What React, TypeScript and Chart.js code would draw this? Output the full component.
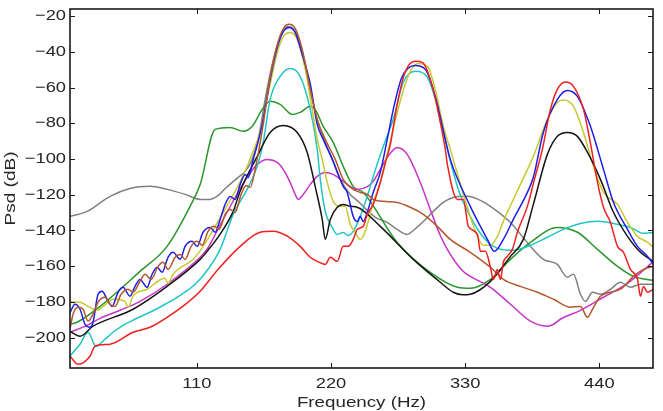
import { useEffect, useRef } from "react";
import { Chart, registerables } from "chart.js";

Chart.register(...registerables);

// Power spectral density traces: frequency (Hz) and level (dB)
const redHz = [6, 12.6, 22.4, 26.5, 38.8, 57.7, 71.6, 85.6, 98.7, 112.7, 127.5, 145.5, 161.9, 172.6, 184.1, 194.7, 203, 208.7, 215.3, 219.4, 225.1, 230, 234.1, 238.2, 241.5, 246.4, 249.7, 254.6, 260.4, 265, 268.6, 273.5, 279.3, 284.2, 289.1, 294.9, 303.1, 309.6, 313.7, 315.4, 323.6, 328.5, 332.6, 340, 342.5, 346.6, 350.7, 353.1, 356.4, 358.9, 361.3, 364.6, 368.7, 372.8, 381, 386.8, 393.3, 399.9, 405.6, 412.2, 418.8, 427, 432.7, 438.5, 443.4, 449.1, 454.9, 459.8, 465.5, 471.3, 473.7, 476.2, 479.5, 484.4];
const redDb = [-210.4, -214.9, -210.4, -204.8, -203.7, -197, -194.2, -188.6, -182.4, -174, -161.7, -148.9, -141, -140.4, -143.2, -148.9, -155, -157.3, -159, -155, -157.3, -148.9, -148.9, -145, -139.4, -137.7, -131, -125.4, -113.1, -101, -92, -72.2, -54.3, -47, -45.2, -45.9, -59.3, -79.5, -94.6, -103, -122.6, -122.6, -137.7, -142.1, -151.7, -151.7, -160.6, -167.4, -161.8, -167.4, -157.8, -154.5, -150.6, -141, -126.5, -111.4, -94.6, -72.2, -61, -56.9, -59.3, -72.2, -91.1, -113.1, -127, -135.5, -148.9, -152.2, -161.8, -167.4, -176.8, -171.3, -174.6, -172.9];

const blueHz = [6, 10.1, 14.2, 18.3, 22.4, 24.9, 29, 32.3, 36.4, 40.5, 45.4, 49.5, 55.2, 59.3, 63.4, 69.2, 73.3, 77.4, 81.5, 86.4, 90.5, 96.3, 100.4, 106.1, 110.2, 115.1, 120.9, 125, 129.1, 133.2, 137.3, 141.4, 145.5, 149.6, 152.1, 156.2, 160.3, 164.4, 170.1, 176.7, 181.6, 185.7, 190.6, 196.4, 203, 208.7, 213.6, 221.8, 230, 233.3, 238.2, 241.5, 244, 246.4, 249.7, 254.6, 260.4, 266.1, 271.8, 277.6, 283.4, 289.1, 297.3, 305.5, 313.7, 317.8, 334.2, 342.5, 348.2, 353.9, 361.3, 369.5, 381, 385.9, 394.1, 405.6, 413.8, 422, 432.7, 443.4, 451.6, 463.1, 471.3, 479.5, 484.4];
const blueDb = [-186, -181.3, -184.1, -192.5, -194.2, -191.4, -175.7, -174, -178.5, -182.5, -174.6, -171.8, -176.8, -171.3, -167.4, -171.8, -164.5, -160.6, -163.4, -155, -152.2, -156.1, -148.9, -146.1, -148.9, -141, -138.3, -141, -133.8, -125.4, -121, -122.6, -114.2, -108.6, -110.3, -100.2, -90.1, -77.8, -55.4, -35.8, -28, -26.3, -29.1, -41.4, -58, -80.6, -89, -101.3, -115.3, -118.7, -132.1, -135, -132.1, -135, -129.9, -118.7, -107.5, -89, -70, -55, -49, -47.6, -49.8, -64.9, -89, -100.2, -126.5, -137.7, -145, -151.7, -145, -133.8, -118.7, -110.2, -85.1, -66.6, -61.6, -64.9, -81.7, -105.8, -124.3, -139.4, -148.9, -154.5, -158.9];

const brownHz = [6, 8.5, 12.6, 16.7, 20.8, 24.9, 29, 34.7, 38.8, 42.9, 47.9, 53.6, 57.7, 63.4, 67.5, 72.5, 78.2, 82.3, 86.4, 92.2, 96.3, 100.4, 105.3, 110.2, 114.3, 119.2, 124.2, 128.3, 133.2, 137.3, 141.4, 146.3, 150.4, 153.7, 158.6, 164.4, 170.1, 176.7, 181.6, 185.7, 190.6, 196.4, 203, 208.7, 215.3, 223.5, 230, 238.2, 244, 249.7, 254.6, 262.8, 274.3, 285, 295.7, 307.2, 317.8, 334.2, 350.7, 361.3, 375.3, 389.2, 402.4, 416.3, 424.5, 430.3, 434.4, 440.9, 449.1, 457.3, 468, 476.2, 484.4];
const brownDb = [-195.3, -186.9, -183, -184.1, -190.8, -186.9, -180.2, -177.4, -181.3, -182.5, -175.7, -172.9, -174.6, -168.5, -164.5, -167.4, -160.1, -157.8, -161.8, -155, -153.4, -156.2, -148.9, -146.1, -148.3, -140.5, -137.7, -139.4, -131, -128.2, -129.9, -119.8, -114.8, -115.9, -103, -80.6, -54.3, -34.2, -26.3, -24.6, -26.9, -38.6, -61, -77.8, -89, -100.2, -111.4, -117, -118.7, -119.8, -122.6, -123.7, -124.3, -127, -131, -137.7, -145, -152.2, -160.6, -167.4, -171.3, -174.6, -178.5, -183, -182.5, -188.6, -184.1, -176.8, -174.6, -172.9, -165.7, -161.8, -160.1];

const yellowHz = [6, 14.2, 20.8, 28.2, 33.1, 41.3, 51.1, 53.6, 57.7, 69.2, 83.9, 86.4, 90.5, 106.9, 115.1, 129.1, 139.8, 148, 156.2, 161.9, 170.1, 176.7, 181.6, 186.5, 192.3, 198.9, 204.6, 208.7, 212.8, 216.9, 221.8, 227.6, 231.7, 235.8, 239.9, 244, 246.4, 250.5, 254.6, 260.4, 267, 274.3, 280.9, 286.6, 291.6, 299, 305.5, 312.1, 317.8, 331.8, 338.4, 344.9, 350.7, 356.4, 361.3, 369.5, 375.3, 385.9, 397.4, 405.6, 410.6, 418.8, 427, 435.2, 443.4, 454.9, 463.1, 471.3, 479.5, 484.4];
const yellowDb = [-180, -180.2, -182.5, -184.7, -182.5, -178.5, -179.7, -183, -176.8, -172.9, -166.8, -169.6, -164.5, -156.1, -149, -133, -120, -109.2, -95.7, -84.5, -58.2, -38.6, -30.8, -29.1, -33, -49.8, -72.2, -89, -100.2, -113.1, -123.7, -126.5, -126.5, -136.6, -141, -145, -143.3, -135, -124.3, -113.1, -94.6, -74, -58, -49, -46.5, -48.1, -61, -81.7, -94.6, -127, -140.5, -148.3, -148.3, -143.3, -134.9, -122.6, -114.2, -98.5, -77.8, -68.3, -67, -70.5, -85.1, -104.1, -118.7, -125.4, -135.5, -143.3, -146.6, -149.5];

const cyanHz = [6, 14.2, 20.8, 27.3, 34.7, 41.3, 49.5, 59.3, 71.6, 84, 96.3, 108.6, 119.2, 129.1, 139.8, 151.2, 159.5, 164.4, 170.1, 178.3, 186.5, 194.7, 203, 208.7, 211.2, 215.3, 221, 225.1, 230, 234.1, 238.2, 244, 249.7, 254.6, 262, 271, 279.3, 289.1, 299, 307.2, 315.4, 324.4, 334.2, 344.9, 356.4, 369.5, 383.5, 397.4, 410.6, 424.5, 438.5, 451.6, 465.5, 476.2, 484.4];
const cyanDb = [-210.4, -203.7, -197, -204.8, -200.9, -197, -193.1, -189.7, -185.8, -181.3, -176.3, -170.1, -161.7, -150.6, -131, -117, -104.1, -90.7, -66.6, -53.7, -49.3, -53.7, -72.2, -94.6, -111.4, -129.4, -138.3, -142.2, -141.1, -142.8, -140.5, -132.1, -120.9, -109.7, -94.6, -77.8, -57, -50.9, -54.3, -70.5, -94.6, -117, -132.1, -143.8, -150, -151.1, -148.3, -143.8, -139.4, -136.1, -134.9, -136.1, -138.3, -141.6, -141.1];

const magentaHz = [6, 20, 30.6, 47, 63.4, 85.6, 112.7, 118.4, 129.1, 139.8, 151.2, 159.5, 167.7, 175.9, 180.8, 186.5, 190.6, 193.1, 197.2, 203, 208.7, 215.3, 221.8, 230, 241.5, 249.7, 254.6, 260.4, 266.1, 274.3, 282.5, 293.2, 301.4, 309.6, 317.8, 328.5, 334.2, 350.7, 367.1, 383.5, 397.4, 402.4, 408.1, 424.5, 443.4, 463.1, 476.2, 484.4];
const magentaDb = [-197, -193.1, -189.2, -184.7, -179.7, -170.1, -155, -150.5, -137, -123.5, -110.3, -103, -100.2, -101.9, -105.8, -113.1, -119.8, -122.6, -119.8, -114.2, -109.7, -107.5, -108.6, -112.5, -117, -115.4, -112.5, -105.8, -99.1, -93.5, -97.4, -113.1, -128.2, -142.8, -153.4, -163, -165.7, -171.8, -181.3, -190.8, -193.6, -192.5, -189.7, -184.7, -177.4, -169.6, -162.3, -157.3];

const greenHz = [6, 11.7, 30.6, 63.4, 85.6, 106.1, 112.7, 125, 137.3, 148, 155.4, 163.6, 170.1, 178.3, 188.2, 194.7, 203, 207, 213.6, 221.8, 230, 238.2, 246.4, 274.3, 301.4, 323.6, 334.2, 350.7, 367.1, 383.5, 405.6, 422, 438.5, 454.9, 468, 484.4];
const greenDb = [-192.5, -191.4, -182.5, -162.9, -148.9, -124.3, -114.3, -83.4, -82.3, -84.5, -81.7, -72.2, -67.7, -69.4, -75, -73.9, -70.5, -72.2, -81.7, -90.7, -104.1, -115.3, -118.7, -146.7, -163.5, -171.8, -172.4, -167.4, -156.2, -146.7, -138.3, -141, -150.6, -160.1, -165.7, -168];

const blackHz = [6, 14.2, 24.9, 57.7, 85.6, 112.7, 118.4, 129.1, 139.8, 145.5, 159.5, 170.1, 180.8, 192.3, 200.5, 207, 212.8, 215.3, 219.4, 225.1, 230, 235.8, 241.5, 260.4, 287.5, 309.6, 320.3, 328, 334.2, 350.7, 367.1, 377.7, 385.9, 397.4, 405.6, 413.8, 422, 430.3, 440.9, 451.6, 463.1, 473.7, 484.4];
const blackDb = [-196.5, -199.2, -193.6, -184.1, -171.3, -156.2, -151.7, -142, -129.3, -118, -98.5, -85.1, -81.2, -85.1, -96.3, -115.3, -133.8, -145, -133.8, -127, -125.4, -126.5, -127, -137.7, -156.2, -169, -174.6, -176, -175.7, -168.5, -154.5, -145, -125.4, -97.4, -87.3, -85.1, -87.3, -96.3, -111.4, -129.8, -143.3, -152.2, -157.3];

const grayHz = [6, 20, 38.8, 55.2, 71.6, 85.6, 100.4, 112.7, 120.9, 127.5, 133.2, 139, 143.9, 149.6, 155.4, 160.3, 166, 171.8, 178.3, 184.9, 191.5, 198, 204.6, 211.2, 219.4, 227.6, 235.8, 242.3, 248.9, 256.3, 266.1, 274.3, 282.5, 287.5, 295.7, 303.9, 312.1, 320.3, 331.8, 340.8, 350.7, 367.1, 383.5, 394.1, 405.6, 413.8, 418.8, 424.5, 428.6, 434.4, 440.9, 449.1, 457.3, 465.5, 473.7, 484.4];
const grayDb = [-132.1, -129.3, -120.9, -116.5, -115.3, -117, -119.8, -122.6, -122.6, -120.4, -116.5, -113.1, -110.3, -106.9, -100.2, -89, -66.6, -47, -31.9, -25.8, -29.7, -44.2, -66.6, -83.4, -97.4, -111.4, -119.8, -123.7, -128.2, -132.6, -135.5, -139.4, -142.2, -140, -135, -129.3, -124.3, -121.5, -120.9, -122.6, -126.5, -135.5, -148.9, -156.2, -159, -166.2, -164.5, -175.7, -179.7, -174.6, -175.7, -172.9, -169, -171.8, -170.1, -170.1];

// Axis limits and tick values
const xRange = [6, 484];
const yRange = [-217, -16];
const xTicks = [110, 220, 330, 440];
const yTicks = [-200, -180, -160, -140, -120, -100, -80, -60, -40, -20];
const xTitle = "Frequency (Hz)";
const yTitle = "Psd (dB)";

// First entry is drawn on top
const traces = [
  { hz: redHz, db: redDb, color: "#ee2020" },
  { hz: brownHz, db: brownDb, color: "#b4582c" },
  { hz: blueHz, db: blueDb, color: "#1e1ee6" },
  { hz: blackHz, db: blackDb, color: "#151515" },
  { hz: yellowHz, db: yellowDb, color: "#c8c832" },
  { hz: cyanHz, db: cyanDb, color: "#22c4c4" },
  { hz: magentaHz, db: magentaDb, color: "#c533c8" },
  { hz: greenHz, db: greenDb, color: "#2b962b" },
  { hz: grayHz, db: grayDb, color: "#808080" },
];

const FONT = '"Liberation Sans", Arial, sans-serif';

function drawLabel(ctx: CanvasRenderingContext2D, text: string, x: number, y: number, align: CanvasTextAlign, size: number, sx: number, rotate = false) {
  ctx.save();
  ctx.translate(x, y);
  if (rotate) ctx.rotate(-Math.PI / 2);
  ctx.scale(sx, 1);
  ctx.font = `${size}px ${FONT}`;
  ctx.textAlign = align;
  ctx.textBaseline = "middle";
  ctx.fillText(text, 0, 0);
  ctx.restore();
}

// Boxed axes with inward ticks on all four sides
const boxAxes = {
  id: "boxAxes",
  afterDatasetsDraw(chart: any) {
    const { ctx, chartArea: a, scales } = chart;
    const xs = scales.x;
    const ys = scales.y;
    const len = 5;
    ctx.save();
    ctx.strokeStyle = "#1a1a1a";
    ctx.lineWidth = 1;
    ctx.beginPath();
    for (const v of xTicks) {
      const px = Math.round(xs.getPixelForValue(v)) + 0.5;
      ctx.moveTo(px, a.bottom);
      ctx.lineTo(px, a.bottom - len);
      ctx.moveTo(px, a.top);
      ctx.lineTo(px, a.top + len);
    }
    for (const v of yTicks) {
      const py = Math.round(ys.getPixelForValue(v)) + 0.5;
      ctx.moveTo(a.left, py);
      ctx.lineTo(a.left + len, py);
      ctx.moveTo(a.right, py);
      ctx.lineTo(a.right - len, py);
    }
    ctx.stroke();
    ctx.lineWidth = 1.6;
    ctx.strokeRect(a.left, a.top, a.right - a.left, a.bottom - a.top);

    ctx.fillStyle = "#262626";
    for (const v of yTicks) {
      const py = ys.getPixelForValue(v);
      drawLabel(ctx, "\u2212" + Math.abs(v), a.left - 4, py, "right", 15, 1.22);
    }
    for (const v of xTicks) {
      const px = xs.getPixelForValue(v);
      drawLabel(ctx, String(v), px, a.bottom + 16, "center", 15, 1.22);
    }
    drawLabel(ctx, xTitle, (a.left + a.right) / 2, a.bottom + 35, "center", 15, 1.25);
    drawLabel(ctx, yTitle, 11, (a.top + a.bottom) / 2, "center", 15, 1.27, true);
    ctx.restore();
  },
};

export default function App() {
  const canvasRef = useRef<HTMLCanvasElement | null>(null);

  useEffect(() => {
    const canvas = canvasRef.current;
    if (!canvas) return;
    const chart = new Chart(canvas, {
      type: "line",
      data: {
        datasets: traces.map((t) => ({
          data: t.hz.map((f, i) => ({ x: f, y: t.db[i] })),
          borderColor: t.color,
          borderWidth: 1.5,
          pointRadius: 0,
          fill: false,
          cubicInterpolationMode: "monotone" as const,
        })),
      },
      options: {
        responsive: false,
        animation: false,
        devicePixelRatio: 1,
        layout: { padding: { left: 70, top: 9, right: 10, bottom: 43 } },
        scales: {
          x: { type: "linear", min: xRange[0], max: xRange[1], display: false },
          y: { type: "linear", min: yRange[0], max: yRange[1], display: false },
        },
        plugins: { legend: { display: false }, tooltip: { enabled: false } },
        events: [],
      },
      plugins: [boxAxes],
    });
    return () => chart.destroy();
  }, []);

  return (
    <div style={{ position: "absolute", left: 0, top: 0, width: 663, height: 411, background: "#fff" }}>
      <canvas ref={canvasRef} width={663} height={411} />
    </div>
  );
}
